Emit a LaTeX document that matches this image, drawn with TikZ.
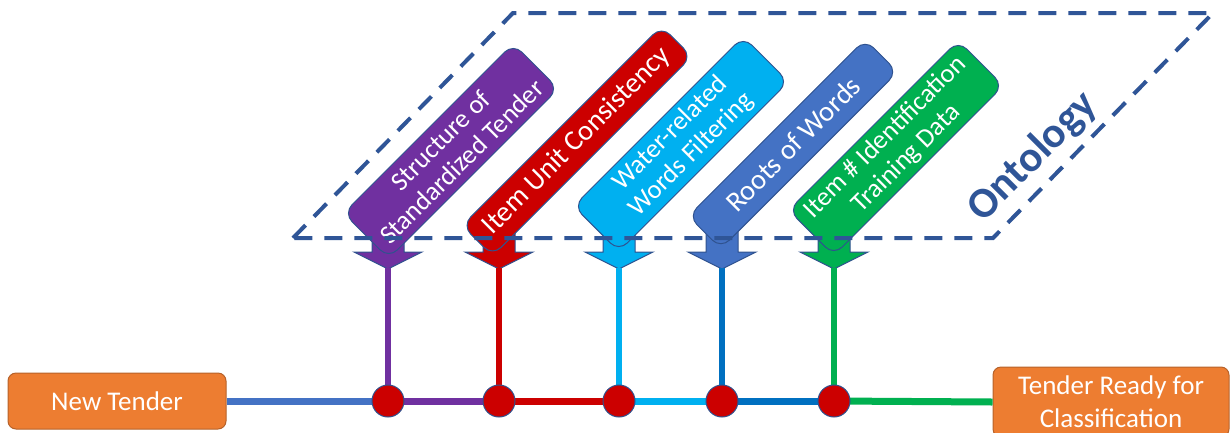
\documentclass[tikz,border=0pt]{standalone}
\usepackage{fontspec}
\setmainfont{Carlito}
\usetikzlibrary{shapes.geometric}

\definecolor{ontoblue}{HTML}{2F5597}
\definecolor{edgeblue}{HTML}{2F528F}
\definecolor{cpurple}{HTML}{7030A0}
\definecolor{cred}{HTML}{CC0000}
\definecolor{ccyan}{HTML}{00B0F0}
\definecolor{cblue}{HTML}{4472C4}
\definecolor{cdeep}{HTML}{0070C0}
\definecolor{cgreen}{HTML}{00B050}
\definecolor{corange}{HTML}{ED7D31}
\definecolor{corangeedge}{HTML}{B6622A}

\tikzset{
  endbox/.style={rectangle, rounded corners=8pt, fill=corange, draw=corangeedge,
    line width=1pt, text=white, font=\fontsize{27}{33}\selectfont, align=center, inner sep=0pt},
  tagbox/.style={rectangle, rotate=45, rounded corners=12pt, draw=edgeblue, line width=1pt,
    fill=#1, text=white, align=center, inner sep=0pt, minimum width=240pt, minimum height=64pt,
    font=\fontsize{26.5}{30}\selectfont},
  onelinebox/.style={font=\fontsize{28.5}{33}\selectfont},
  dropfill/.style={fill=#1, draw=edgeblue, line width=1pt},
  rail/.style={line width=7pt, draw=#1},
  feed/.style={line width=6.5pt, draw=#1},
  junction/.style={ellipse, fill=cred, draw=edgeblue, line width=1pt,
    minimum width=32pt, minimum height=32pt, inner sep=0pt},
  frame/.style={draw=ontoblue, line width=4pt, dash pattern=on 18pt off 12pt},
}

% block arrow pointing down, tip stored as a named coordinate
\newcommand{\droparrow}[3]{%
  \draw[dropfill=#3] ({#2-16},226) -- ({#2+16},226) -- ({#2+16},252) -- ({#2+34},252)
    -- (#2,269) -- ({#2-34},252) -- ({#2-16},252) -- cycle;
  \coordinate (#1) at (#2,268);
}

\begin{document}
\begin{tikzpicture}[x=1pt, y=-1pt]
\useasboundingbox (0,0) rectangle (1230,432);

% start and end of the pipeline
\node[endbox, minimum width=218pt, minimum height=56pt] (newtender) at (117,401) {New Tender};
\node[endbox, minimum width=236pt, minimum height=70pt] (ready) at (1111,402)
  {Tender Ready for\\Classification};

% junction points on the rail
\coordinate (jA) at (388,401);
\coordinate (jB) at (499,401);
\coordinate (jC) at (619,401);
\coordinate (jD) at (722,401);
\coordinate (jE) at (834,401);

% block arrows feeding the rail
\droparrow{tipA}{388}{cpurple}
\droparrow{tipB}{499}{cred}
\droparrow{tipC}{619}{ccyan}
\droparrow{tipD}{722}{cblue}
\droparrow{tipE}{834}{cgreen}

% vertical feeds
\draw[feed=cpurple] (tipA) -- (jA);
\draw[feed=cred]    (tipB) -- (jB);
\draw[feed=ccyan]   (tipC) -- (jC);
\draw[feed=cdeep]   (tipD) -- (jD);
\draw[feed=cgreen]  (tipE) -- (jE);

% rail segments
\draw[rail=cblue]   (newtender.east) -- (jA);
\draw[rail=cpurple] (jA) -- (jB);
\draw[rail=cred]    (jB) -- (jC);
\draw[rail=ccyan]   (jC) -- (jD);
\draw[rail=cdeep]   (jD) -- (jE);
\draw[rail=cgreen]  (jE) -- (ready.west);

% junction dots
\node[junction] (dotA) at (jA) {};
\node[junction] (dotB) at (jB) {};
\node[junction] (dotC) at (jC) {};
\node[junction] (dotD) at (jD) {};
\node[junction] (dotE) at (jE) {};

% ontology components
\node[tagbox=cpurple] (structure) at (451,151) {Structure of\\Standardized Tender};
\node[tagbox=cred, onelinebox, minimum width=282pt, minimum height=43pt]
  (unit) at (577,141) {Item Unit Consistency};
\node[tagbox=ccyan] (water) at (681,144) {Water-related\\Words Filtering};
\node[tagbox=cblue, onelinebox, minimum width=250pt, minimum height=46pt]
  (roots) at (793,144) {Roots of Words};
\node[tagbox=cgreen] (training) at (896,148) {Item \# Identification\\Training Data};

% ontology frame
\draw[frame] (293,238) -- (513,13) -- (1213,13) -- (993,238) -- cycle;
\node[rotate=45, text=ontoblue, font=\fontsize{43}{50}\selectfont\bfseries, inner sep=0pt]
  (onto) at (1033,157) {Ontology};
\end{tikzpicture}
\end{document}
